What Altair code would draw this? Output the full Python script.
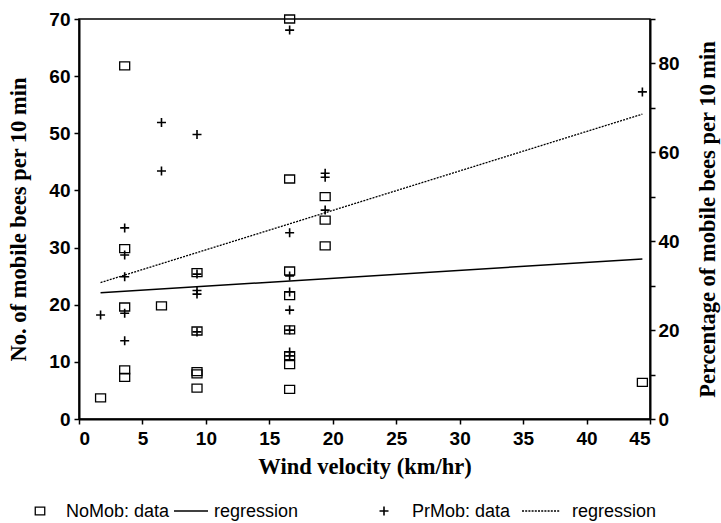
import altair as alt
import pandas as pd

# ---- data ----
nomob_x = [1.7, 3.6, 3.6, 3.6, 3.6, 3.6, 6.5, 9.3, 9.3, 9.3, 9.3, 9.3,
           16.6, 16.6, 16.6, 16.6, 16.6, 16.6, 16.6, 16.6, 19.4, 19.4, 19.4, 44.4]
nomob_y = [3.7, 61.8, 29.8, 19.6, 8.6, 7.3, 19.8, 25.6, 15.4, 8.3, 7.9, 5.4,
           70.0, 42.0, 25.9, 21.6, 15.6, 11.1, 9.5, 5.2, 38.9, 34.8, 30.3, 6.4]

prmob_x = [1.7, 3.6, 3.6, 3.6, 3.6, 3.6, 6.5, 6.5, 9.3, 9.3, 9.3, 9.3, 9.3,
           16.6, 16.6, 16.6, 16.6, 16.6, 16.6, 16.6, 16.6, 19.4, 19.4, 19.4, 44.4]
prmob_pct = [23.4, 43.0, 36.9, 32.0, 23.8, 17.6, 66.7, 55.8, 64.0, 32.6, 28.9, 28.1, 19.6,
             87.5, 41.9, 32.2, 28.6, 24.5, 20.0, 15.1, 14.2, 55.3, 54.4, 47.0, 73.6]

nomob_reg_x = [1.7, 44.4]
nomob_reg_y = [22.1, 28.0]
prmob_reg_x = [1.7, 44.4]
prmob_reg_pct = [30.7, 68.6]

x_ticks = list(range(0, 46, 5))
left_ticks = list(range(0, 71, 10))
right_ticks = list(range(0, 91, 10))

legend_labels = ["NoMob: data", "regression", "PrMob: data", "regression"]

# ---- tables ----
no_df = pd.DataFrame({"x": nomob_x, "y": nomob_y})
pr_df = pd.DataFrame({"x": prmob_x, "y": prmob_pct})
no_reg_df = pd.DataFrame({"x": nomob_reg_x, "y": nomob_reg_y})
pr_reg_df = pd.DataFrame({"x": prmob_reg_x, "y": prmob_reg_pct})
lab_df = pd.DataFrame({"label": legend_labels})

SANS = "Liberation Sans"
SERIF = "Liberation Serif"
SQUARE = "M-1,-0.8H1V0.8H-1Z"
PLUS = "M-1,0H1M0,-1V1"

common_axis = dict(
    labelFont=SANS, labelFontWeight=700, labelFontSize=19, labelColor="black",
    tickColor="black", tickSize=5, tickWidth=1.5, domainColor="black", domainWidth=2,
    grid=False, titleFont=SERIF, titleFontSize=22.5, titleFontWeight="bold",
    titleColor="black",
)

x_enc = alt.X("x:Q", scale=alt.Scale(domain=[0, 45], nice=False, zero=False),
              axis=alt.Axis(values=x_ticks, title="Wind velocity (km/hr)",
                            labelPadding=5, titleY=54, titleBaseline="alphabetic",
                            **common_axis))

left_axis = alt.Axis(values=left_ticks, title="No. of mobile bees per 10 min",
                     labelPadding=4, titleAngle=270, titleX=-54, titleY=200,
                     titleAlign="center", titleBaseline="alphabetic", **common_axis)

right_axis = alt.Axis(values=right_ticks, orient="right",
                      title="Percentage of mobile bees per 10 min",
                      labelExpr="datum.value % 20 == 0 ? datum.label : ''",
                      labelPadding=3, titleAngle=270, titleX=64, titleY=200,
                      titleAlign="center", titleBaseline="alphabetic", **common_axis)

squares = alt.Chart(no_df).mark_point(
    shape=SQUARE, size=100, filled=False, stroke="black", strokeWidth=1.3, opacity=1
).encode(x=x_enc, y=alt.Y("y:Q", scale=alt.Scale(domain=[0, 70], nice=False), axis=left_axis))

no_line = alt.Chart(no_reg_df).mark_line(color="black", strokeWidth=1.5).encode(
    x="x:Q", y=alt.Y("y:Q", scale=alt.Scale(domain=[0, 70], nice=False)))

left = alt.layer(squares, no_line)

pluses = alt.Chart(pr_df).mark_point(
    shape=PLUS, size=81, filled=False, stroke="black", strokeWidth=1.6, opacity=1
).encode(x="x:Q", y=alt.Y("y:Q", scale=alt.Scale(domain=[0, 90], nice=False), axis=right_axis))

pr_line = alt.Chart(pr_reg_df).mark_line(color="black", strokeWidth=1.3, strokeDash=[2, 1.2]).encode(
    x="x:Q", y=alt.Y("y:Q", scale=alt.Scale(domain=[0, 90], nice=False)))

right = alt.layer(pluses, pr_line)

# ---- legend (below the plot); x offsets are relative to the plot's left edge ----
LY = 498
leg_square = alt.Chart(lab_df.iloc[[0]]).mark_point(
    shape=SQUARE, size=90, filled=False, stroke="black", strokeWidth=1.3, opacity=1
).encode(x=alt.value(-39), y=alt.value(LY - 6))
leg_plus = alt.Chart(lab_df.iloc[[2]]).mark_point(
    shape=PLUS, size=81, filled=False, stroke="black", strokeWidth=1.6, opacity=1
).encode(x=alt.value(305), y=alt.value(LY - 6))
leg_solid = alt.Chart(lab_df.iloc[[1]]).mark_rule(color="black", strokeWidth=1.5).encode(
    x=alt.value(95), x2=alt.value(129), y=alt.value(LY - 6))
leg_dot = alt.Chart(lab_df.iloc[[3]]).mark_rule(color="black", strokeWidth=1.3, strokeDash=[2, 1.2]).encode(
    x=alt.value(443), x2=alt.value(481), y=alt.value(LY - 6))

def leg_text(i, xpos):
    return alt.Chart(lab_df.iloc[[i]]).mark_text(
        align="left", baseline="alphabetic", font=SANS, fontSize=18, color="black"
    ).encode(x=alt.value(xpos), y=alt.value(LY), text="label:N")

legend = alt.layer(leg_square, leg_text(0, -13), leg_solid, leg_text(1, 135),
                   leg_plus, leg_text(2, 333), leg_dot, leg_text(3, 493))

chart = alt.layer(left, right, legend).resolve_scale(y="independent").properties(
    width=571, height=400, autosize="none",
    padding={"left": 79, "top": 19, "right": 71, "bottom": 104},
    background="white",
).configure_view(stroke="black", strokeWidth=1.5).configure_axis(
    labelFontWeight="bold", labelFont=SANS
)

chart.save("out.html", embed_options={"renderer": "svg", "actions": False})
